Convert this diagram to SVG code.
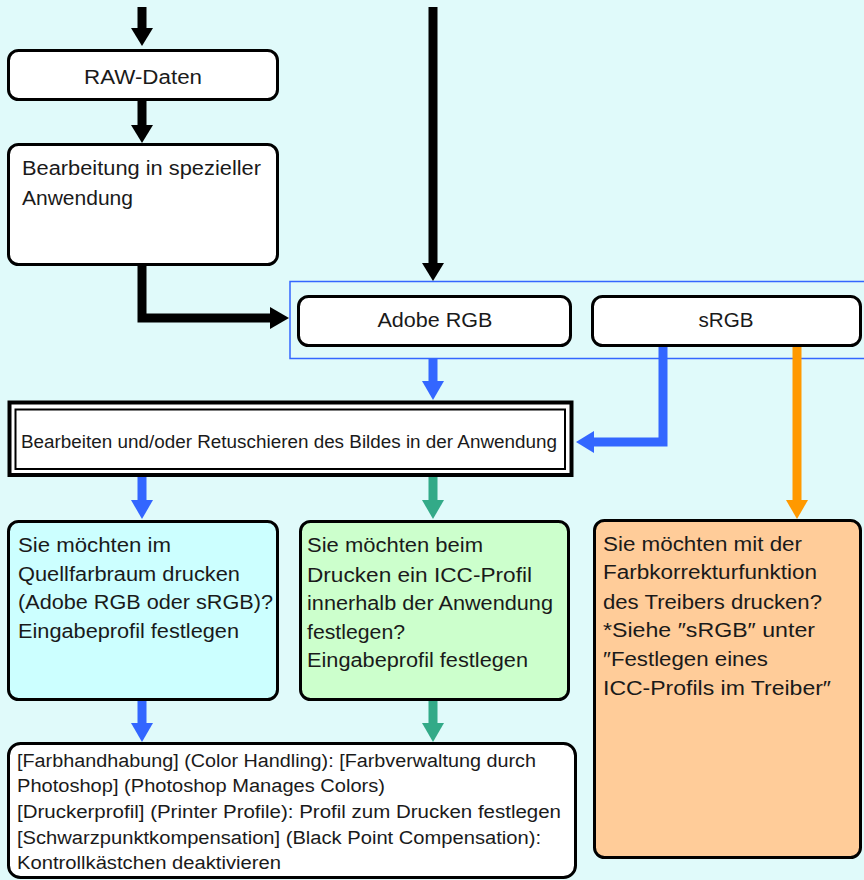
<svg xmlns="http://www.w3.org/2000/svg" width="864" height="880" viewBox="0 0 864 880">
<style>
.box{stroke:#000;stroke-width:3}
.w{fill:#fff}
.t{font-family:"Liberation Sans",Arial,sans-serif;font-size:20px;fill:#1a1a1a}
.s{font-size:18px}
.b{font-size:18px}
.k{stroke:#000;stroke-width:9;fill:none}
.kh{fill:#000}
.bl{stroke:#3366ff;stroke-width:9;fill:none}
.blh{fill:#3366ff}
.gr{stroke:#33aa88;stroke-width:9;fill:none}
.grh{fill:#33aa88}
.or{stroke:#ff9900;stroke-width:9;fill:none}
.orh{fill:#ff9900}
</style>
<rect width="864" height="880" fill="#e0fafa"/>
<rect id="container" x="290" y="281.5" width="580" height="77" fill="none" stroke="#3366ff" stroke-width="1.5"/>
<g id="connectors">
<path class="k" d="M142,7V29"/><polygon class="kh" points="131,28 153,28 142,46"/>
<path class="k" d="M142,100V126"/><polygon class="kh" points="131,125 153,125 142,143"/>
<path class="k" d="M142,265V318H272"/><polygon class="kh" points="270,307 270,329 289,318"/>
<path class="k" d="M433,7V264"/><polygon class="kh" points="422,263 444,263 433,281"/>
<path class="bl" d="M433,359V382"/><polygon class="blh" points="422,381 444,381 433,400"/>
<path class="bl" d="M663,345V442H592"/><polygon class="blh" points="594,431 594,453 576,442"/>
<path class="or" d="M797,345V501"/><polygon class="orh" points="786,500 808,500 797,519"/>
<path class="bl" d="M142,477V501"/><polygon class="blh" points="131,500 153,500 142,519"/>
<path class="gr" d="M433,477V501"/><polygon class="grh" points="422,500 444,500 433,519"/>
<path class="bl" d="M142,700V724"/><polygon class="blh" points="131,723 153,723 142,742"/>
<path class="gr" d="M433,700V724"/><polygon class="grh" points="422,723 444,723 433,742"/>
</g>
<g id="raw">
<rect class="box w" x="8.5" y="50.5" width="269" height="49" rx="10"/>
<text class="t" x="143" y="84" text-anchor="middle" textLength="118" lengthAdjust="spacingAndGlyphs">RAW-Daten</text>
</g>
<g id="bearbeitung">
<rect class="box w" x="8.5" y="144.5" width="269" height="120" rx="10"/>
<text class="t" x="22" y="175" textLength="239" lengthAdjust="spacingAndGlyphs">Bearbeitung in spezieller</text>
<text class="t" x="22" y="205" textLength="111" lengthAdjust="spacingAndGlyphs">Anwendung</text>
</g>
<g id="adobergb">
<rect class="box w" x="298.5" y="296.5" width="272" height="49" rx="10"/>
<text class="t" x="435" y="327" text-anchor="middle" textLength="115" lengthAdjust="spacingAndGlyphs">Adobe RGB</text>
</g>
<g id="srgb">
<rect class="box w" x="592.5" y="296.5" width="268" height="49" rx="10"/>
<text class="t" x="726" y="327" text-anchor="middle" textLength="55" lengthAdjust="spacingAndGlyphs">sRGB</text>
</g>
<g id="retusche">
<rect x="9.5" y="402.5" width="562" height="72.5" fill="#fff" stroke="#000" stroke-width="4"/>
<rect x="15.5" y="409.5" width="549.5" height="59.5" fill="none" stroke="#000" stroke-width="2"/>
<text class="t b" x="21" y="448" textLength="536" lengthAdjust="spacingAndGlyphs">Bearbeiten und/oder Retuschieren des Bildes in der Anwendung</text>
</g>
<g id="quellfarbraum">
<rect class="box" x="8.5" y="521.5" width="269" height="178" rx="10" fill="#ccffff"/>
<text class="t" x="18" y="552" textLength="153" lengthAdjust="spacingAndGlyphs">Sie möchten im</text>
<text class="t" x="18" y="581" textLength="222" lengthAdjust="spacingAndGlyphs">Quellfarbraum drucken</text>
<text class="t" x="18" y="609" textLength="255" lengthAdjust="spacingAndGlyphs">(Adobe RGB oder sRGB)?</text>
<text class="t" x="18" y="638" textLength="221" lengthAdjust="spacingAndGlyphs">Eingabeprofil festlegen</text>
</g>
<g id="iccanwendung">
<rect class="box" x="300.5" y="521.5" width="268" height="178" rx="10" fill="#ccffcc"/>
<text class="t" x="307" y="552" textLength="176" lengthAdjust="spacingAndGlyphs">Sie möchten beim</text>
<text class="t" x="307" y="582" textLength="225" lengthAdjust="spacingAndGlyphs">Drucken ein ICC-Profil</text>
<text class="t" x="307" y="610" textLength="246" lengthAdjust="spacingAndGlyphs">innerhalb der Anwendung</text>
<text class="t" x="307" y="639" textLength="98" lengthAdjust="spacingAndGlyphs">festlegen?</text>
<text class="t" x="307" y="667" textLength="221" lengthAdjust="spacingAndGlyphs">Eingabeprofil festlegen</text>
</g>
<g id="treiber">
<rect class="box" x="594.5" y="520.5" width="266" height="337" rx="10" fill="#ffcc99"/>
<text class="t" x="603" y="551" textLength="199" lengthAdjust="spacingAndGlyphs">Sie möchten mit der</text>
<text class="t" x="603" y="579" textLength="214" lengthAdjust="spacingAndGlyphs">Farbkorrekturfunktion</text>
<text class="t" x="603" y="609" textLength="219" lengthAdjust="spacingAndGlyphs">des Treibers drucken?</text>
<text class="t" x="603" y="637" textLength="212" lengthAdjust="spacingAndGlyphs">*Siehe ″sRGB″ unter</text>
<text class="t" x="603" y="666" textLength="165" lengthAdjust="spacingAndGlyphs">″Festlegen eines</text>
<text class="t" x="603" y="695" textLength="228" lengthAdjust="spacingAndGlyphs">ICC-Profils im Treiber″</text>
</g>
<g id="einstellungen">
<rect class="box w" x="8.5" y="743.5" width="567" height="134" rx="12"/>
<text class="t s" x="17" y="767" textLength="519" lengthAdjust="spacingAndGlyphs">[Farbhandhabung] (Color Handling): [Farbverwaltung durch</text>
<text class="t s" x="17" y="792" textLength="368" lengthAdjust="spacingAndGlyphs">Photoshop] (Photoshop Manages Colors)</text>
<text class="t s" x="17" y="818" textLength="544" lengthAdjust="spacingAndGlyphs">[Druckerprofil] (Printer Profile): Profil zum Drucken festlegen</text>
<text class="t s" x="17" y="844" textLength="524" lengthAdjust="spacingAndGlyphs">[Schwarzpunktkompensation] (Black Point Compensation):</text>
<text class="t s" x="17" y="869" textLength="264" lengthAdjust="spacingAndGlyphs">Kontrollkästchen deaktivieren</text>
</g>
</svg>
